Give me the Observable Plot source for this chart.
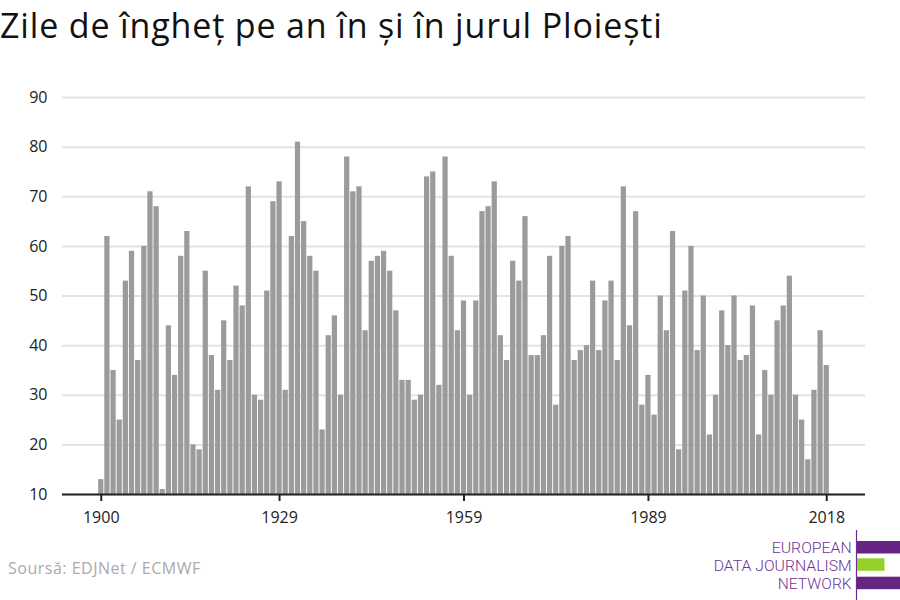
<!DOCTYPE html>
<html>
<head>
<meta charset="utf-8">
<script src="https://cdn.jsdelivr.net/npm/d3@7"></script>
<script src="https://cdn.jsdelivr.net/npm/@observablehq/plot@0.6"></script>
<style>
  body { margin: 0; background: #fff; font-family: "Open Sans", sans-serif; width: 900px; height: 600px; position: relative; overflow: hidden; }
  #title { height: 60px; box-sizing: border-box; padding-top: 5px; font-size: 34px; letter-spacing: 0.85px; line-height: 40px; color: #111; white-space: nowrap; }
  #chart svg { display: block; }
  #source { position: absolute; left: 8px; top: 558px; font-size: 16px; letter-spacing: 0.5px; line-height: 20px; color: #aaaaaa; }
  #logo { position: absolute; left: 700px; top: 525px; }
</style>
</head>
<body>
<div id="title">Zile de îngheț pe an în și în jurul Ploiești</div>
<div id="chart"></div>
<div id="source">Soursă: EDJNet / ECMWF</div>
<svg id="logo" width="200" height="75" viewBox="0 0 200 75">
  <line x1="156.5" y1="5" x2="156.5" y2="75" stroke="#6a2c91" stroke-width="1.2"/>
  <rect x="157" y="16" width="43" height="12.5" fill="#662483"/>
  <rect x="157" y="33.3" width="27.5" height="12.5" fill="#95d12a"/>
  <rect x="157" y="51.7" width="43" height="12.5" fill="#662483"/>
  <g font-family="Roboto, sans-serif" font-size="15" font-weight="300" fill="#6f3296" text-anchor="end">
    <text x="151.7" y="28.3" textLength="80" lengthAdjust="spacingAndGlyphs">EUROPEAN</text>
    <text x="151.7" y="46" textLength="138" lengthAdjust="spacingAndGlyphs">DATA JOURNALISM</text>
    <text x="151.7" y="64" textLength="74" lengthAdjust="spacingAndGlyphs">NETWORK</text>
  </g>
</svg>
<script>
const years = d3.range(1900, 2019);
const frostDays = [
  13,62,35,25,53,59,37,60,71,68,
  11,44,34,58,63,20,19,55,38,31,
  45,37,52,48,72,30,29,51,69,73,
  31,62,81,65,58,55,23,42,46,30,
  78,71,72,43,57,58,59,55,47,33,
  33,29,30,74,75,32,78,58,43,49,
  30,49,67,68,73,42,37,57,53,66,
  38,38,42,58,28,60,62,37,39,40,
  53,39,49,53,37,72,44,67,28,34,
  26,50,43,63,19,51,60,39,50,22,
  30,47,40,50,37,38,48,22,35,30,
  45,48,54,30,25,17,31,43,36
];
const xTicks = [1900, 1929, 1959, 1989, 2018];
const yTicks = [10, 20, 30, 40, 50, 60, 70, 80, 90];

const data = years.map((year, i) => ({year, value: frostDays[i]}));

const chart = Plot.plot({
  width: 900,
  height: 480,
  marginLeft: 62,
  marginRight: 35,
  marginTop: 37,
  marginBottom: 46,
  style: {fontFamily: "Open Sans, sans-serif", fontSize: "16px", color: "#222", background: "white", overflow: "visible"},
  x: {type: "band", domain: years, paddingInner: 0.15, paddingOuter: 5.88, align: 0.5, round: false, label: null},
  y: {domain: [10, 90], label: null},
  marks: [
    Plot.ruleY(yTicks, {stroke: "#e3e3e3", strokeWidth: 2}),
    Plot.barY(data, {x: "year", y: "value", fill: "#9b9b9b", clip: true}),
    Plot.ruleY([10], {stroke: "#222", strokeWidth: 2}),
    Plot.axisY({ticks: yTicks, tickSize: 0, tickPadding: 15, fontSize: 16, label: null}),
    Plot.axisX({ticks: xTicks, tickFormat: d => String(d), tickSize: 7, tickPadding: 10, stroke: "#222", strokeWidth: 2, fontSize: 16, label: null})
  ]
});
document.getElementById("chart").appendChild(chart);
</script>
</body>
</html>
